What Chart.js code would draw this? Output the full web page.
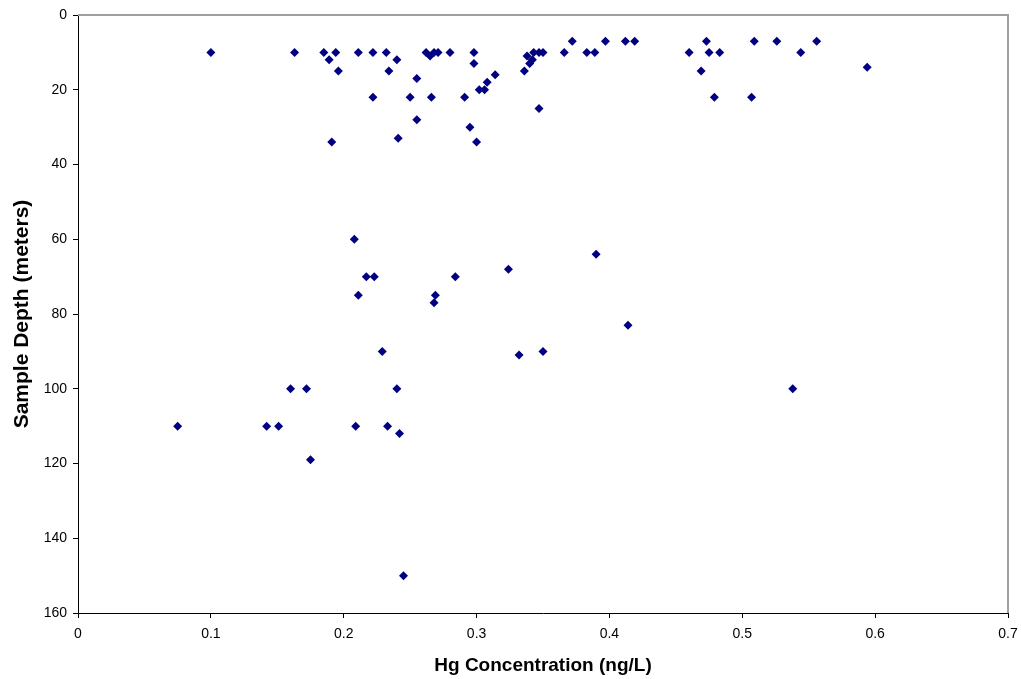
<!DOCTYPE html>
<html>
<head>
<meta charset="utf-8">
<script src="https://cdn.jsdelivr.net/npm/chart.js@4"></script>
<style>
  html, body { margin: 0; padding: 0; background: #fff; }
  #wrap { width: 1021px; height: 679px; }
</style>
</head>
<body>
<div id="wrap"><canvas id="mychart" width="1021" height="679"></canvas></div>
<script>
// Hg concentration (ng/L) vs sample depth (m)
var hgConc = [
    0.100, 0.163, 0.185, 0.189, 0.194, 0.196, 0.211, 0.222, 0.222, 0.232,
    0.234, 0.240, 0.191, 0.241, 0.255, 0.250, 0.266, 0.255, 0.262, 0.265,
    0.268, 0.271, 0.280, 0.298, 0.298, 0.291, 0.302, 0.306, 0.308, 0.314,
    0.295, 0.300, 0.336, 0.338, 0.340, 0.342, 0.343, 0.347, 0.350, 0.347,
    0.366, 0.372, 0.383, 0.389, 0.397, 0.412, 0.419, 0.473, 0.460, 0.475,
    0.483, 0.469, 0.479, 0.507, 0.509, 0.526, 0.544, 0.556, 0.594, 0.208,
    0.390, 0.324, 0.217, 0.223, 0.284, 0.211, 0.269, 0.268, 0.229, 0.332,
    0.350, 0.160, 0.172, 0.240, 0.075, 0.142, 0.151, 0.209, 0.233, 0.242,
    0.175, 0.414, 0.538, 0.245
];
var depth = [
    10, 10, 10, 12, 10, 15, 10, 10, 22, 10,
    15, 12, 34, 33, 17, 22, 22, 28, 10, 11,
    10, 10, 10, 10, 13, 22, 20, 20, 18, 16,
    30, 34, 15, 11, 13, 12, 10, 10, 10, 25,
    10, 7, 10, 10, 7, 7, 7, 7, 10, 10,
    10, 15, 22, 22, 7, 7, 10, 7, 14, 60,
    64, 68, 70, 70, 70, 75, 75, 77, 90, 91,
    90, 100, 100, 100, 110, 110, 110, 110, 110, 112,
    119, 83, 100, 150
];
var xTicks = [0, 0.1, 0.2, 0.3, 0.4, 0.5, 0.6, 0.7];
var yTicks = [0, 20, 40, 60, 80, 100, 120, 140, 160];

var points = hgConc.map(function(x, i) { return {x: x, y: depth[i]}; });

// grey frame on top and right, like the spreadsheet plot area
var frame = {
    id: 'frame',
    beforeDatasetsDraw: function(chart) {
        var a = chart.chartArea, ctx = chart.ctx;
        ctx.save();
        ctx.strokeStyle = '#a0a0a0';
        ctx.lineWidth = 2;
        ctx.beginPath();
        ctx.moveTo(a.left, a.top);
        ctx.lineTo(a.right, a.top);
        ctx.lineTo(a.right, a.bottom);
        ctx.stroke();
        ctx.restore();
    }
};

var tickFont = { family: 'Liberation Sans', size: 14 };

var myChart = new Chart(document.getElementById('mychart'), {
    type: 'scatter',
    data: {
        datasets: [{
            label: 'Hg',
            data: points,
            pointStyle: 'rectRot',
            pointRadius: 4.5,
            pointBorderWidth: 0,
            backgroundColor: '#000080',
            borderColor: '#000080'
        }]
    },
    options: {
        responsive: false,
        animation: false,
        layout: { padding: { top: 15, right: 13, left: 0, bottom: 0 } },
        plugins: { legend: { display: false }, tooltip: { enabled: false } },
        scales: {
            x: {
                type: 'linear',
                min: xTicks[0],
                max: xTicks[xTicks.length - 1],
                afterBuildTicks: function(s) { s.ticks = xTicks.map(function(v) { return {value: v}; }); },
                afterFit: function(s) {
                    s.height = 66;
                    s.paddingLeft = 0;
                    s.paddingRight = 0;
                },
                ticks: {
                    color: '#000',
                    font: tickFont,
                    padding: 8,
                    maxRotation: 0,
                    callback: function(v) { return String(v); }
                },
                grid: { drawOnChartArea: false, drawTicks: true, tickLength: 5, color: '#000' },
                border: { color: '#000', width: 1 },
                title: {
                    display: true,
                    text: 'Hg Concentration (ng/L)',
                    color: '#000',
                    font: { family: 'Liberation Sans', size: 19, weight: 'bold' },
                    padding: { top: 0, bottom: 2 }
                }
            },
            y: {
                type: 'linear',
                reverse: true,
                min: yTicks[0],
                max: yTicks[yTicks.length - 1],
                afterBuildTicks: function(s) { s.ticks = yTicks.map(function(v) { return {value: v}; }); },
                afterFit: function(s) {
                    s.width = 78;
                    s.paddingTop = 0;
                    s.paddingBottom = 0;
                },
                ticks: {
                    color: '#000',
                    font: tickFont,
                    padding: 6
                },
                grid: { drawOnChartArea: false, drawTicks: true, tickLength: 5, color: '#000' },
                border: { color: '#000', width: 1 },
                title: {
                    display: true,
                    text: 'Sample Depth (meters)',
                    color: '#000',
                    font: { family: 'Liberation Sans', size: 21, weight: 'bold' },
                    padding: { top: 10, bottom: 0 }
                }
            }
        }
    },
    plugins: [frame]
});
</script>
</body>
</html>
